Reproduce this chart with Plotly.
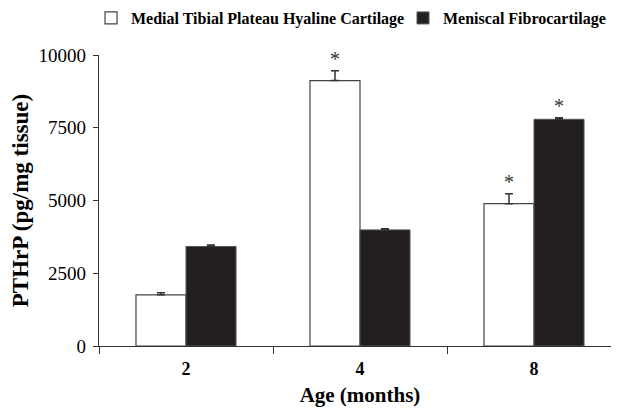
import plotly.graph_objects as go

categories = ["2", "4", "8"]
hyaline = [1760, 9120, 4890]
hyaline_err = [70, 340, 340]
hyaline_sig = [False, True, True]
fibro = [3420, 3990, 7790]
fibro_err = [50, 35, 55]
fibro_sig = [False, False, True]
y_ticks = [0, 2500, 5000, 7500, 10000]

FONT = "Liberation Serif"
DARK = "#231f20"

fig = go.Figure()
fig.add_trace(go.Bar(
    name="Medial Tibial Plateau Hyaline Cartilage", x=categories, y=hyaline,
    marker=dict(color="white", line=dict(color="#444", width=1.2)),
    error_y=dict(type="data", array=hyaline_err, arrayminus=[0] * 3, symmetric=False,
                 color="#333", thickness=1.5, width=4),
    legend="legend",
))
fig.add_trace(go.Bar(
    name="Meniscal Fibrocartilage", x=categories, y=fibro,
    marker=dict(color=DARK, line=dict(color="#555", width=1)),
    error_y=dict(type="data", array=fibro_err, arrayminus=[0] * 3, symmetric=False,
                 color="#333", thickness=1.5, width=4),
    legend="legend2",
))

bargap = 0.425
off = (1 - bargap) / 4
anns = []
for i, c in enumerate(categories):
    if hyaline_sig[i]:
        anns.append(dict(x=i - off, y=hyaline[i] + hyaline_err[i], xref="x", yref="y",
                         text="*", showarrow=False, yanchor="bottom", yshift=-1,
                         font=dict(family=FONT, size=20, color="#333")))
    if fibro_sig[i]:
        anns.append(dict(x=i + off, y=fibro[i] + fibro_err[i], xref="x", yref="y",
                         text="*", showarrow=False, yanchor="bottom", yshift=-1,
                         font=dict(family=FONT, size=20, color="#333")))

legend_font = dict(family=FONT, size=16, color="black", weight="bold")

fig.update_layout(
    width=619, height=408,
    margin=dict(l=91, r=6, t=47, b=70, autoexpand=False),
    paper_bgcolor="white", plot_bgcolor="white",
    barmode="group", bargap=bargap, bargroupgap=0,
    font=dict(family=FONT, color="black"),
    showlegend=True,
    legend=dict(orientation="h", x=-0.0153, y=1.127, xanchor="left", yanchor="middle",
                font=legend_font, bgcolor="rgba(0,0,0,0)"),
    legend2=dict(orientation="h", x=0.5824, y=1.127, xanchor="left", yanchor="middle",
                 font=legend_font, bgcolor="rgba(0,0,0,0)"),
    annotations=anns,
    xaxis=dict(
        type="category", range=[-0.5, 2.5],
        showline=True, linecolor="#333", linewidth=1.2,
        ticks="outside", ticklen=7, tickcolor="#333", tickwidth=1.2,
        tickson="boundaries", showgrid=False, ticklabelstandoff=6,
        tickfont=dict(family=FONT, size=18, weight="bold"),
        title=dict(text="<b>Age (months)</b>", font=dict(family=FONT, size=21), standoff=9),
    ),
    yaxis=dict(
        range=[0, 10000], tickvals=y_ticks, ticktext=[str(v) for v in y_ticks],
        showline=True, linecolor="#333", linewidth=1.2,
        ticks="outside", ticklen=5, tickcolor="#333", tickwidth=1.2,
        showgrid=False, zeroline=False, ticklabelstandoff=3,
        tickfont=dict(family=FONT, size=19),
        title=dict(text="<b>PTHrP (pg/mg tissue)</b>", font=dict(family=FONT, size=23), standoff=8),
    ),
)

fig.write_html("out.html")
